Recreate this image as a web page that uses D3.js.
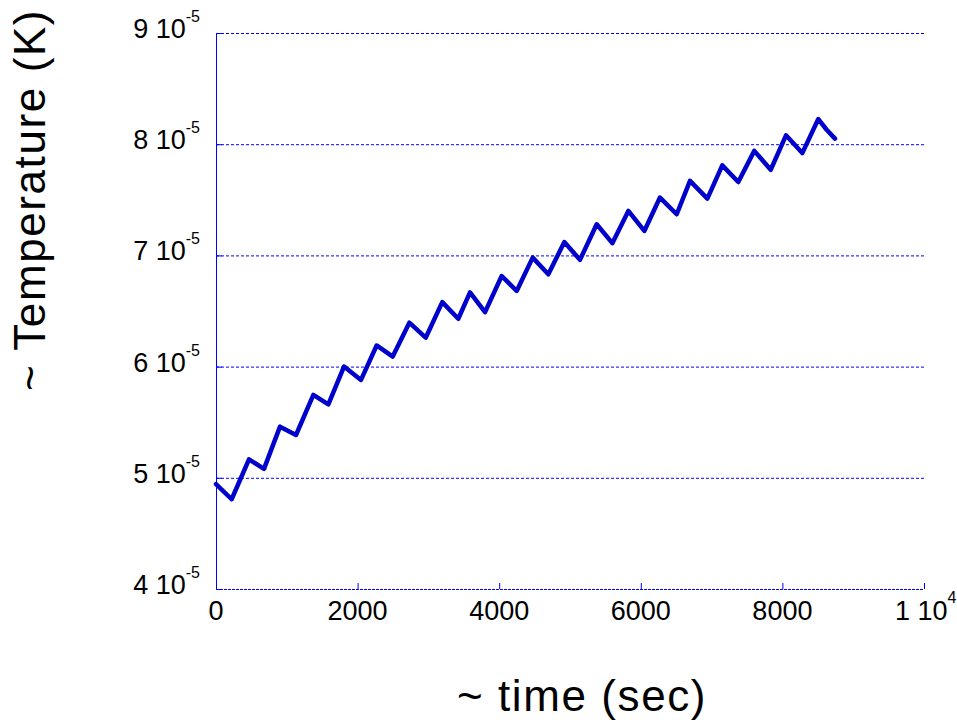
<!DOCTYPE html>
<html>
<head>
<meta charset="utf-8">
<script src="https://cdn.jsdelivr.net/npm/d3@7"></script>
<style>
  html, body { margin: 0; padding: 0; background: #fff; }
  svg { display: block; font-family: "Liberation Sans", Arial, sans-serif; }
</style>
</head>
<body>
<svg id="chart" width="957" height="726"></svg>
<script>
// Data
const timeSec = [0, 221, 466, 678, 904, 1130, 1375, 1587, 1808, 2048, 2269, 2496, 2731, 2962,
  3196, 3422, 3588, 3800, 4035, 4247, 4473, 4694, 4920, 5141, 5377, 5598, 5824, 6050, 6271,
  6507, 6695, 6940, 7151, 7377, 7603, 7835, 8051, 8281, 8507, 8625, 8743];
const temperatureE5 = [4.944, 4.807, 5.166, 5.08, 5.46, 5.385, 5.745, 5.66, 6.0, 5.88, 6.19,
  6.09, 6.395, 6.26, 6.58, 6.43, 6.667, 6.49, 6.815, 6.68, 6.98, 6.83, 7.12, 6.96, 7.28, 7.11,
  7.40, 7.22, 7.52, 7.37, 7.67, 7.51, 7.81, 7.66, 7.94, 7.77, 8.08, 7.92, 8.226, 8.13, 8.05];
const xTicks = [0, 2000, 4000, 6000, 8000, 10000];
const yTicks = [4, 5, 6, 7, 8, 9];
const xTitle = "~ time (sec)";
const yTitle = "~ Temperature (K)";

(function () {
const svg = d3.select("#chart");
const mLeft = 216, mRight = 924, mTop = 33, mBottom = 589;
const blue = "#0000ff";
const lineColor = "#0000cc";

const x = d3.scaleLinear().domain([0, 10000]).range([mLeft, mRight]);
const y = d3.scaleLinear().domain([4, 9]).range([mBottom, mTop]);

// gridlines (dashed) for y ticks above bottom
svg.append("g").selectAll("line").data(yTicks.filter(d => d > 4)).join("line")
  .attr("x1", mLeft).attr("x2", mRight)
  .attr("y1", d => y(d) + 0.5).attr("y2", d => y(d) + 0.5)
  .attr("stroke", blue).attr("stroke-width", 1).attr("stroke-dasharray", "3,2");

// bottom axis (dashed) with inward ticks
svg.append("line").attr("x1", mLeft).attr("x2", mRight).attr("y1", mBottom + 0.5).attr("y2", mBottom + 0.5)
  .attr("stroke", blue).attr("stroke-width", 1).attr("stroke-dasharray", "3,1");
svg.append("g").selectAll("line").data(xTicks).join("line")
  .attr("x1", d => x(d) + 0.5).attr("x2", d => x(d) + 0.5)
  .attr("y1", mBottom).attr("y2", mBottom - 6)
  .attr("stroke", blue).attr("stroke-width", 1);

// left axis solid
svg.append("line").attr("x1", mLeft + 0.5).attr("x2", mLeft + 0.5).attr("y1", mTop).attr("y2", mBottom)
  .attr("stroke", blue).attr("stroke-width", 1);
svg.append("g").selectAll("line").data(yTicks).join("line")
  .attr("x1", mLeft).attr("x2", mLeft + 6)
  .attr("y1", d => y(d) + 0.5).attr("y2", d => y(d) + 0.5)
  .attr("stroke", blue).attr("stroke-width", 1);

// x tick labels
const xl = svg.append("g").selectAll("text").data(xTicks).join("text")
  .attr("x", d => x(d)).attr("y", mBottom + 31)
  .attr("text-anchor", "middle")
  .attr("font-size", 27).attr("fill", "#000");
xl.each(function(d) {
  const t = d3.select(this);
  if (d === 10000) {
    t.attr("text-anchor", "start").attr("x", x(d) - 29);
    t.append("tspan").text("1 10");
    t.append("tspan").attr("dy", -17).attr("font-size", 16).text("4");
  } else {
    t.text(d);
  }
});

// y tick labels
const yl = svg.append("g").selectAll("text").data(yTicks).join("text")
  .attr("x", 200).attr("y", d => y(d) + 5)
  .attr("text-anchor", "end")
  .attr("font-size", 27).attr("fill", "#000");
yl.each(function(d) {
  const t = d3.select(this);
  t.append("tspan").text(d + " 10");
  t.append("tspan").attr("dy", -16).attr("font-size", 16).text("-5");
});

// data line
const line = d3.line().x((d, i) => x(timeSec[i])).y(d => y(d));
svg.append("path").datum(temperatureE5)
  .attr("d", line)
  .attr("fill", "none").attr("stroke", lineColor)
  .attr("stroke-width", 4.5).attr("stroke-linejoin", "round").attr("stroke-linecap", "round");

// axis titles
svg.append("text").attr("x", 582).attr("y", 711)
  .attr("text-anchor", "middle").attr("font-size", 44).attr("letter-spacing", 1.6)
  .attr("fill", "#000").text(xTitle);
svg.append("text").attr("transform", "translate(45,200) rotate(-90)")
  .attr("text-anchor", "middle").attr("font-size", 44).attr("letter-spacing", 1.6)
  .attr("fill", "#000").text(yTitle);
})();
</script>
</body>
</html>
